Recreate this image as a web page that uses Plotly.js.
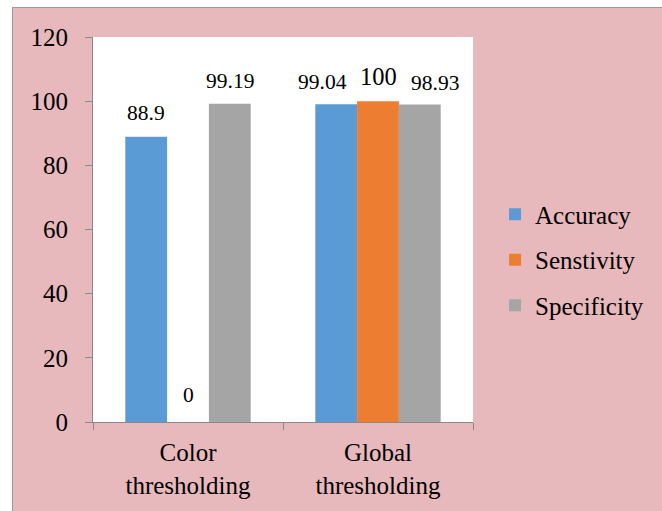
<!DOCTYPE html>
<html>
<head>
<meta charset="utf-8">
<script src="https://cdn.plot.ly/plotly-3.0.1.min.js"></script>
<style>
  html, body { margin: 0; padding: 0; background: #ffffff; width: 662px; height: 511px; overflow: hidden; }
  #chart { position: absolute; left: 12px; top: 7px; width: 650px; height: 504px;
           border-left: 1px solid #9a9a9a; border-top: 1px solid #9a9a9a; }
</style>
</head>
<body>
<div id="chart"></div>
<script>
const categories = ["Color<br>thresholding", "Global<br>thresholding"];
const seriesNames = ["Accuracy", "Senstivity", "Specificity"];
const accuracy = [88.9, 99.04];
const sensitivity = [0, 100];
const specificity = [99.19, 98.93];
const seriesValues = [accuracy, sensitivity, specificity];
const seriesColors = ["#5b9bd5", "#ed7d31", "#a5a5a5"];
const yTicks = [0, 20, 40, 60, 80, 100, 120];

// label styling (pixel nudges and sizes, per series / category)
const labelXShift = [[0, -14], [0, 0], [0, 15]];
const labelYShift = [[24, 22], [27, 25], [23, 22]];
const labelSize = [[21.5, 21.5], [21.5, 24.5], [21.5, 21.5]];

const font = "Liberation Serif";
const bargap = 0.34;
const barWidthUnits = (1 - bargap) / seriesValues.length;

const traces = seriesValues.map((vals, s) => ({
  type: "bar",
  name: seriesNames[s],
  x: categories,
  y: vals,
  marker: { color: seriesColors[s] },
  legendgroup: "g" + s,
  hoverinfo: "skip"
}));

const annotations = [];
seriesValues.forEach((vals, s) => {
  vals.forEach((v, i) => {
    annotations.push({
      xref: "x", yref: "y",
      x: i + (s - (seriesValues.length - 1) / 2) * barWidthUnits,
      y: v,
      xshift: labelXShift[s][i],
      yshift: labelYShift[s][i],
      text: String(v),
      showarrow: false,
      font: { family: font, size: labelSize[s][i], color: "#000000" }
    });
  });
});

const layout = {
  width: 650, height: 504,
  margin: { l: 80, r: 190, t: 29, b: 90.3 },
  paper_bgcolor: "#e8b9bc",
  plot_bgcolor: "#ffffff",
  font: { family: font, size: 25, color: "#000000" },
  barmode: "group",
  bargap: bargap,
  bargroupgap: 0,
  showlegend: true,
  legend: {
    x: 1.058, xanchor: "left", xref: "paper",
    y: 0.421, yanchor: "middle",
    font: { family: font, size: 25, color: "#000000" },
    bgcolor: "rgba(0,0,0,0)",
    traceorder: "grouped",
    tracegroupgap: 10,
    itemwidth: 30
  },
  xaxis: {
    type: "category",
    tickson: "boundaries",
    ticks: "outside", ticklen: 7, tickcolor: "#898989",
    showline: true, linecolor: "#898989", linewidth: 1,
    showgrid: false, zeroline: false,
    ticklabelstandoff: 8,
    tickfont: { family: font, size: 25, color: "#000000" }
  },
  yaxis: {
    range: [0, 120],
    tickvals: yTicks,
    ticktext: yTicks.map(String),
    ticks: "outside", ticklen: 7, tickcolor: "#898989",
    showline: true, linecolor: "#898989", linewidth: 1,
    showgrid: false, zeroline: false,
    ticklabelstandoff: 12,
    tickfont: { family: font, size: 25, color: "#000000" }
  },
  annotations: annotations
};

Plotly.newPlot("chart", traces, layout, { displayModeBar: false, staticPlot: true });
</script>
</body>
</html>
